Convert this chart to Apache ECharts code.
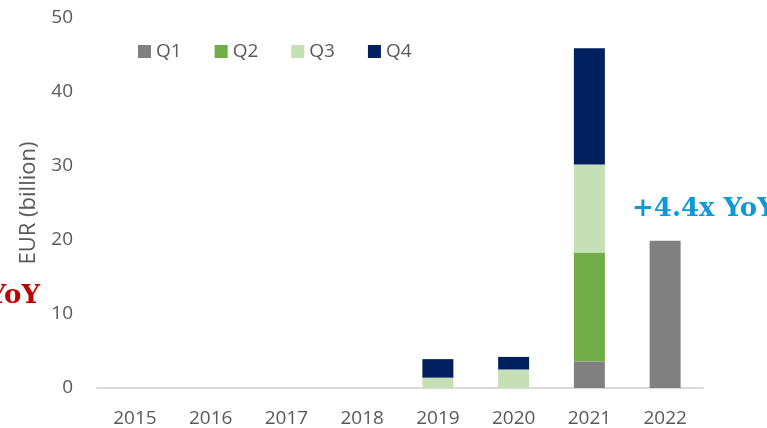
<!DOCTYPE html>
<html>
<head>
<meta charset="utf-8">
<script src="https://cdn.jsdelivr.net/npm/echarts@6/dist/echarts.min.js"></script>
<style>
  html, body { margin: 0; padding: 0; background: #fff; }
  #chart { width: 767px; height: 428px; }
</style>
</head>
<body>
<div id="chart"></div>
<script>
// chart data
const years = ["2015", "2016", "2017", "2018", "2019", "2020", "2021", "2022"];
const q1 = [0, 0, 0, 0, 0, 0, 3.6, 19.9];
const q2 = [0, 0, 0, 0, 0, 0, 14.7, 0];
const q3 = [0, 0, 0, 0, 1.4, 2.5, 11.9, 0];
const q4 = [0, 0, 0, 0, 2.5, 1.7, 15.7, 0];
const seriesNames = ["Q1", "Q2", "Q3", "Q4"];
const seriesColors = ["#808080", "#70ad47", "#c5e0b4", "#002060"];

const font = "'Open Sans', 'Liberation Sans', sans-serif";
const serif = "bold 26px 'DejaVu Serif', 'Liberation Serif', serif";

const chart = echarts.init(document.getElementById("chart"));

const makeSeries = (name, data, color) => ({
  name: name,
  type: "bar",
  stack: "total",
  barWidth: 31,
  data: data.map(v => (v === 0 ? null : v)),
  itemStyle: { color: color },
  emphasis: { disabled: true }
});

const option = {
  backgroundColor: "#fff",
  animation: false,
  grid: { left: 97, right: 64, top: 18, bottom: 40 },
  legend: {
    left: 133,
    top: 37,
    itemWidth: 13,
    itemHeight: 13,
    itemGap: 33,
    icon: "rect",
    textStyle: { color: "#595959", fontSize: 19, fontFamily: font },
    data: seriesNames
  },
  xAxis: {
    type: "category",
    data: years,
    axisLine: { lineStyle: { color: "#d9d9d9", width: 2 } },
    axisTick: { show: false },
    axisLabel: { color: "#595959", fontSize: 19, fontFamily: font, margin: 21 }
  },
  yAxis: {
    type: "value",
    min: 0,
    max: 50,
    interval: 10,
    name: "EUR (billion)",
    nameLocation: "middle",
    nameGap: 57,
    nameTextStyle: { color: "#595959", fontSize: 22, fontFamily: font },
    splitLine: { show: false },
    axisLine: { show: false },
    axisTick: { show: false },
    axisLabel: { color: "#595959", fontSize: 19, fontFamily: font, margin: 24 }
  },
  series: [
    makeSeries(seriesNames[0], q1, seriesColors[0]),
    makeSeries(seriesNames[1], q2, seriesColors[1]),
    makeSeries(seriesNames[2], q3, seriesColors[2]),
    makeSeries(seriesNames[3], q4, seriesColors[3])
  ],
  graphic: [
    {
      type: "text",
      left: 632,
      top: 196,
      style: { text: "+4.4x YoY", fill: "#0a9ad6", font: serif }
    },
    {
      type: "text",
      right: 727,
      top: 283,
      style: { text: "YoY", fill: "#c00000", font: serif }
    }
  ]
};

chart.setOption(option);
</script>
</body>
</html>
